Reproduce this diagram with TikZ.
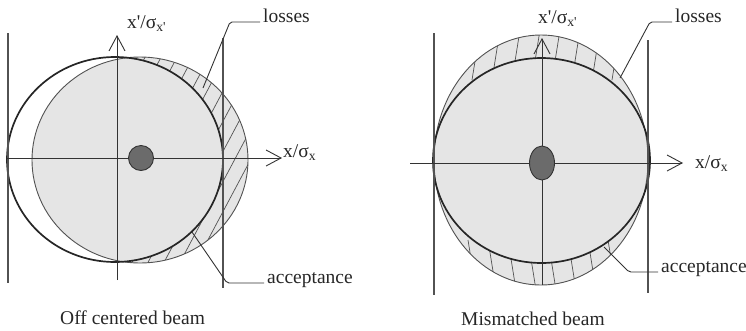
\documentclass[tikz,border=0pt]{standalone}
\usepackage{fontspec}
\setmainfont{Liberation Serif}
\usetikzlibrary{arrows.meta}
\definecolor{beamfill}{gray}{0.90}
\definecolor{inkgray}{gray}{0.32}
\definecolor{dotfill}{gray}{0.42}
\tikzset{
  beamline/.style={draw=inkgray,line width=0.9pt},
  accline/.style={draw=black!85,line width=1.7pt},
  slit/.style={draw=inkgray,line width=1.3pt},
  axis/.style={draw=black!80,line width=0.9pt,->},
  hatch/.style={draw=inkgray,line width=0.7pt},
  leader/.style={draw=black!80,line width=0.9pt,rounded corners=2pt},
  beamdot/.style={draw=black!80,line width=0.9pt,fill=dotfill},
  lbl/.style={anchor=base west,inner sep=0pt,text=black!85},
  tag/.style={anchor=base west,inner sep=3pt,text=black!85}
}
\begin{document}
\begin{tikzpicture}[x=1pt,y=-1pt,font=\fontsize{19.5}{23}\selectfont,>={Straight Barb[length=15pt,width=16pt]}]
\useasboundingbox (0,0) rectangle (746,330);
\fill[beamfill] (140,160) ellipse (108 and 103);
\begin{scope}
\clip (140,160) ellipse (108 and 103);
\foreach \i in {0,16,...,240} \draw[hatch] (\i,300) -- ++(160,-301);
\fill[beamfill] (115,159.5) ellipse (108 and 102.5);
\end{scope}
\draw[beamline] (140,160) ellipse (108 and 103);
\draw[accline] (115,159.5) ellipse (108 and 102.5);
\draw[slit] (8,33) -- (8,283);
\draw[slit] (223,38) -- (223,288);
\coordinate (xaxL0) at (7,158);
\coordinate (xaxL1) at (282,158);
\coordinate (yaxL0) at (117,280);
\coordinate (yaxL1) at (117,35);
\draw[axis] (xaxL0) -- (xaxL1);
\draw[axis] (yaxL0) -- (yaxL1);
\draw[beamdot] (141,158) circle (12.5);
\node[lbl] (xpL) at (127,28) {x\textquotesingle/σ\textsubscript{x\textquotesingle}};
\node[lbl] (xL) at (283,157) {x/σ\textsubscript{x}};
\node[tag] (lossL) at (260,22) {losses};
\node[tag] (accL) at (264,283) {acceptance};
\coordinate (lossTipL) at (203,88);
\coordinate (lossBendL) at (230,22);
\coordinate (accTipL) at (192,232);
\coordinate (accBendL) at (227,283);
\draw[leader] (lossTipL) -- (lossBendL) -- (lossL.base west);
\draw[leader] (accTipL) -- (accBendL) -- (accL.base west);
\node[lbl] (capL) at (60,324) {Off centered beam};
\fill[beamfill] (541,160) ellipse (107 and 125);
\begin{scope}
\clip (541,160) ellipse (107 and 125);
\foreach \i in {452,472,...,632} \draw[hatch] (\i,80) -- ++(8,-50);
\foreach \i in {448,468,...,628} \draw[hatch] (\i,240) -- ++(8,50);
\fill[beamfill] (541.5,160.5) ellipse (108.5 and 102.5);
\end{scope}
\draw[beamline] (541,160) ellipse (107 and 125);
\draw[accline] (541.5,160.5) ellipse (108.5 and 102.5);
\draw[slit] (434,33) -- (434,295);
\draw[slit] (648,40) -- (648,293);
\coordinate (xaxR0) at (410,163);
\coordinate (xaxR1) at (683,163);
\coordinate (yaxR0) at (542,285);
\coordinate (yaxR1) at (542,38);
\draw[axis] (xaxR0) -- (xaxR1);
\draw[axis] (yaxR0) -- (yaxR1);
\draw[beamdot] (542,163) ellipse (12.5 and 17);
\node[lbl] (xpR) at (538,23) {x\textquotesingle/σ\textsubscript{x\textquotesingle}};
\node[lbl] (xR) at (695,168) {x/σ\textsubscript{x}};
\node[tag] (lossR) at (672,22) {losses};
\node[tag] (accR) at (658,272) {acceptance};
\coordinate (lossTipR) at (620,78);
\coordinate (lossBendR) at (650,22);
\coordinate (accTipR) at (604,247);
\coordinate (accBendR) at (629,272);
\draw[leader] (lossTipR) -- (lossBendR) -- (lossR.base west);
\draw[leader] (accTipR) -- (accBendR) -- (accR.base west);
\node[lbl] (capR) at (461,325) {Mismatched beam};
\end{tikzpicture}
\end{document}
